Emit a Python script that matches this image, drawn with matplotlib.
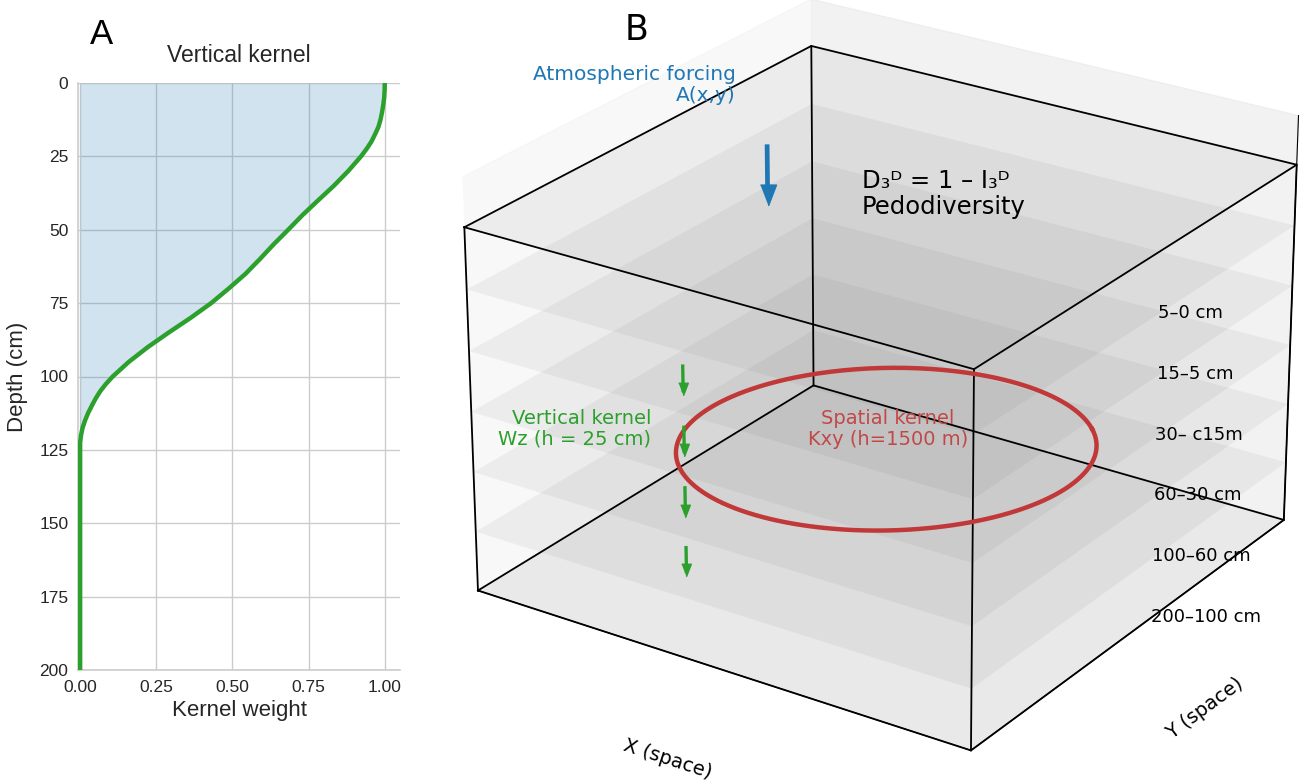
import numpy as np
import matplotlib
matplotlib.use('Agg')
import matplotlib.pyplot as plt
from mpl_toolkits.mplot3d.art3d import Poly3DCollection

# panel A : vertical kernel
depth_cm = [0, 2.5, 5, 7.5, 10, 12.5, 15, 17.5, 20, 22.5, 25, 30, 35, 40, 45,
            50, 55, 60, 65, 70, 75, 80, 85, 90, 95, 100, 102.5, 105, 107.5,
            110, 112.5, 115, 117.5, 120, 122.5, 125, 200]
kernel_w = [1.000, 0.9995, 0.998, 0.995, 0.991, 0.986, 0.979, 0.968, 0.956,
            0.940, 0.922, 0.880, 0.833, 0.781, 0.730, 0.683, 0.635, 0.590,
            0.543, 0.488, 0.430, 0.363, 0.291, 0.222, 0.160, 0.107, 0.085,
            0.066, 0.051, 0.038, 0.026, 0.016, 0.008, 0.003, 0.0, 0.0, 0.0]
depth_ticks = [0, 25, 50, 75, 100, 125, 150, 175, 200]
weight_ticks = [0.0, 0.25, 0.5, 0.75, 1.0]

# panel B : soil layers (index units, top = 0)
layer_labels = ['5–0 cm', '15–5 cm', '30– c15m', '60–30 cm', '100–60 cm', '200–100 cm']
layer_levels = [0, -1, -2, -3, -4, -5, -6]
wz_arrow_tops = [-2, -3, -4, -5]
wz_arrow_xy = (0.33, 0.15)
wz_arrow_len = 0.45
forcing_xy = (0.29, 0.453)
forcing_z = (0.5, -0.42)
kernel_center = (0.5, 0.5)
kernel_z = -4.15
kernel_rx = 0.36
kernel_ry = 0.32

W, H = 1307, 782
def fx(x): return x / W
def fy(y): return 1 - y / H

fig = plt.figure(figsize=(W / 100, H / 100), dpi=100)
arial = ['Liberation Sans', 'DejaVu Sans']

# ---------------- panel A
axA = fig.add_axes([fx(78), fy(670), (400 - 78) / W, (670 - 83) / H])
axA.grid(True, color='0.8', lw=1.0, zorder=0)
axA.set_axisbelow(True)
axA.fill_betweenx(depth_cm, 0, kernel_w, color='tab:blue', alpha=0.2, lw=0, zorder=2)
axA.plot(kernel_w, depth_cm, color='tab:green', lw=3.2, zorder=3, solid_joinstyle='round')
axA.set_xlim(-0.007, 1.05)
axA.set_ylim(200, 0)
axA.set_xticks(weight_ticks)
axA.set_xticklabels(['%.2f' % v for v in weight_ticks])
axA.set_yticks(depth_ticks)
for s in ('top', 'right'):
    axA.spines[s].set_visible(False)
for s in ('left', 'bottom'):
    axA.spines[s].set_color('0.8')
    axA.spines[s].set_linewidth(1.2)
axA.tick_params(length=0, pad=7, labelsize=12.5, labelcolor='0.15')
for lab in axA.get_xticklabels() + axA.get_yticklabels():
    lab.set_family(arial)
axA.set_title('Vertical kernel', fontsize=16.5, family=arial, color='0.15', pad=15)
axA.set_xlabel('Kernel weight', fontsize=16, family=arial, color='0.15', labelpad=4)
axA.set_ylabel('Depth (cm)', fontsize=16, family=arial, color='0.15', labelpad=8)
fig.text(fx(102), fy(35), 'A', fontsize=25, family=arial, ha='center', va='center')

# ---------------- panel B
side = 782
axB = fig.add_axes([fx(485), 26.4 / H, side / W, side / H], projection='3d',
                   computed_zorder=False)
axB.patch.set_alpha(0)
axB.set_proj_type('persp', focal_length=1.2)
axB.set_xlim(0, 1)
axB.set_ylim(0, 1)
axB.set_zlim(-6, 0.8)
axB.set_box_aspect((1, 1, 0.76), zoom=1.178)
axB.view_init(elev=24.5, azim=-56)
axB.set_xticks([])
axB.set_yticks([])
axB.set_zticks([])
axB.grid(False)

# layer planes
for z in layer_levels:
    sq = [[(0, 0, z), (1, 0, z), (1, 1, z), (0, 1, z)]]
    pc = Poly3DCollection(sq, facecolor='0.35', alpha=0.07, edgecolor='none')
    pc.set_zorder(1)
    pc.set_clip_on(False)
    axB.add_collection3d(pc)

# box edges
zt, zb = layer_levels[0], layer_levels[-1]
box_kw = dict(color='k', lw=1.3, zorder=2, clip_on=False)
for x0, y0 in [(0, 0), (1, 0), (1, 1), (0, 1)]:
    axB.plot([x0, x0], [y0, y0], [zb, zt], **box_kw)
for z in (zt, zb):
    axB.plot([0, 1, 1, 0, 0], [0, 0, 1, 1, 0], [z] * 5, **box_kw)

# spatial kernel ellipse
t = np.linspace(0, 2 * np.pi, 300)
ex = kernel_center[0] + (kernel_rx * np.cos(t) + kernel_ry * np.sin(t)) / np.sqrt(2)
ey = kernel_center[1] + (kernel_rx * np.cos(t) - kernel_ry * np.sin(t)) / np.sqrt(2)
axB.plot(ex, ey, np.full_like(t, kernel_z), color='#c03838', lw=3.2, zorder=3, clip_on=False)

# arrows: shaft + triangular head marker
head = [(-1, 1.3), (1, 1.3), (0, -1.3)]
for z in wz_arrow_tops:
    zend = z - wz_arrow_len
    axB.plot([wz_arrow_xy[0]] * 2, [wz_arrow_xy[1]] * 2, [z, zend + 0.05],
             color='tab:green', lw=2.4, zorder=4, clip_on=False)
    axB.plot([wz_arrow_xy[0]], [wz_arrow_xy[1]], [zend + 0.07], marker=head, ms=9,
             color='tab:green', lw=0, zorder=4, clip_on=False)
axB.plot([forcing_xy[0]] * 2, [forcing_xy[1]] * 2, [forcing_z[0], forcing_z[1] + 0.15],
         color='tab:blue', lw=3.4, zorder=4, clip_on=False)
axB.plot([forcing_xy[0]], [forcing_xy[1]], [forcing_z[1] + 0.13], marker=head, ms=15,
         color='tab:blue', lw=0, zorder=4, clip_on=False)

axB.set_xlabel('X (space)', fontsize=14, labelpad=20)
axB.set_ylabel('Y (space)', fontsize=14, labelpad=20)

fig.text(fx(637), fy(30), 'B', fontsize=25, ha='center', va='center')
fig.text(fx(736), fy(85), 'Atmospheric forcing\nA(x,y)', fontsize=14.5, color='tab:blue',
         ha='right', va='center', multialignment='right', linespacing=1.15)
fig.text(fx(862), fy(194), 'D₃ᴰ = 1 – I₃ᴰ\nPedodiversity', fontsize=17.5,
         ha='left', va='center', linespacing=1.1)
fig.text(fx(651), fy(429), 'Vertical kernel\nWz (h = 25 cm)', fontsize=14, color='tab:green',
         ha='right', va='center', multialignment='right', linespacing=1.1)
fig.text(fx(888), fy(429), 'Spatial kernel\nKxy (h=1500 m)', fontsize=14, color='#c24848',
         ha='center', va='center', linespacing=1.1)
for i, lab in enumerate(layer_labels):
    fig.text(fx(1158 - 1.4 * i), fy(313 + 60.8 * i), lab, fontsize=13, ha='left', va='center')

fig.savefig('out.png', dpi=100)
